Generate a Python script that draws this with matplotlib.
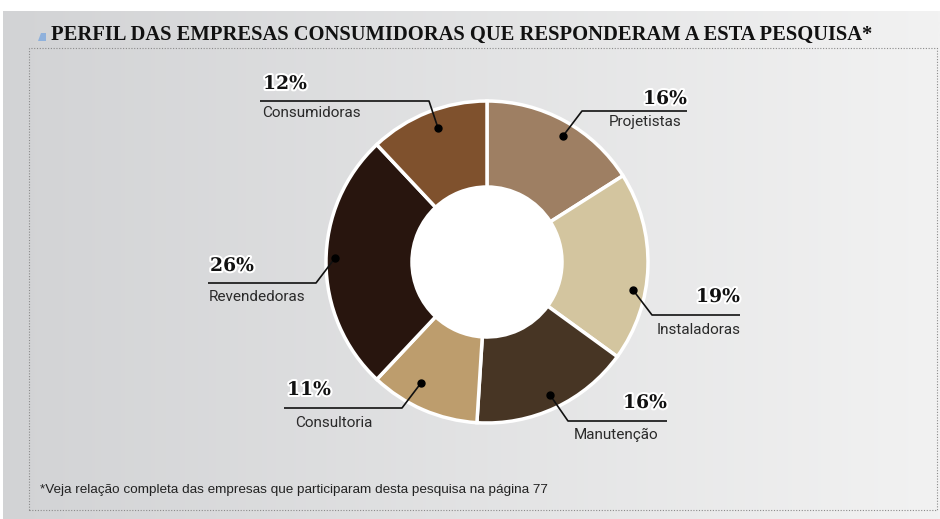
import numpy as np
import matplotlib
matplotlib.use("Agg")
import matplotlib.pyplot as plt
import matplotlib.patheffects as pe
from matplotlib import font_manager
from matplotlib.patches import Rectangle, Polygon, Circle

# ---- data ----
categories = ["Projetistas", "Instaladoras", "Manutenção", "Consultoria", "Revendedoras", "Consumidoras"]
values = [16, 19, 16, 11, 26, 12]
colors = ["#9e7f63", "#d3c59f", "#473524", "#bd9d6d", "#28150e", "#7f512d"]
title = "PERFIL DAS EMPRESAS CONSUMIDORAS QUE RESPONDERAM A ESTA PESQUISA*"
footnote = "*Veja relação completa das empresas que participaram desta pesquisa na página 77"

# ---- fonts ----
names = {f.name for f in font_manager.fontManager.ttflist}
narrow = "Liberation Sans Narrow" if "Liberation Sans Narrow" in names else "Liberation Sans"
label_font = "Roboto"
pct_font = "DejaVu Serif"
title_font = "Liberation Serif"

W, H = 940, 519
fig = plt.figure(figsize=(W / 100, H / 100), dpi=100)
fig.patch.set_facecolor("white")
ax = fig.add_axes([0, 0, 1, 1])

def Y(y):
    return H - y

# background gradient panel
grad = np.linspace(0, 1, 256)
c0 = np.array([0xd2, 0xd3, 0xd5]) / 255
c1 = np.array([0xf2, 0xf2, 0xf2]) / 255
img = (c0[None, :] * (1 - grad[:, None]) + c1[None, :] * grad[:, None])[None, :, :]
ax.imshow(img, extent=(3, W, 0, Y(11)), aspect="auto", zorder=0, interpolation="bilinear")

# dotted border
ax.add_patch(Rectangle((29, Y(510)), 937 - 29, 510 - 48, fill=False,
                       linestyle=(0, (1, 1.5)), edgecolor="#8a8a8a", lw=0.8, zorder=1))

# title + marker
ax.add_patch(Polygon([(38, Y(41)), (46, Y(41)), (46, Y(33)), (41, Y(33))], closed=True,
                     facecolor="#8fb1dc", edgecolor="none", zorder=2))
ax.text(51, Y(35), title, family=title_font, weight="bold", fontsize=14.8,
        color="#111111", ha="left", va="center", zorder=3)

# donut
cx, cy, R, r = 487, Y(262), 161, 75
ax.pie(values, colors=colors, startangle=90, counterclock=False, center=(cx, cy), radius=R,
       wedgeprops=dict(width=R - r, edgecolor="white", linewidth=2.5), frame=True)
ax.add_patch(Circle((cx, cy), r, facecolor="white", edgecolor="none", zorder=4))

# labels layout: (pct anchor, pct ha, line points, dot, label anchor, label ha)
layout = {
    "Consumidoras": ((263, 84), "left", [(260, 101), (429, 101)], (438, 128), (262, 113), "left"),
    "Projetistas": ((687, 99), "right", [(687, 111), (582, 111)], (563, 136), (681, 122), "right"),
    "Instaladoras": ((740, 297), "right", [(740, 315), (652, 315)], (633, 290), (741, 330), "right"),
    "Manutenção": ((667, 403), "right", [(667, 421), (568, 421)], (550, 395), (574, 435), "left"),
    "Consultoria": ((287, 390), "left", [(284, 408), (402, 408)], (421, 383), (295, 423), "left"),
    "Revendedoras": ((210, 266), "left", [(208, 283), (316, 283)], (335, 258), (209, 297), "left"),
}

for cat, val in zip(categories, values):
    (px, py), pha, pts, (dx, dy), (lx, ly), lha = layout[cat]
    xs = [p[0] for p in pts] + [dx]
    ys = [Y(p[1]) for p in pts] + [Y(dy)]
    ax.plot(xs, ys, color="#111111", lw=1.2, zorder=5, solid_capstyle="butt")
    ax.plot([dx], [Y(dy)], "o", color="#000000", ms=5, zorder=6)
    ax.text(px, Y(py), f"{val}%", family=pct_font, weight="heavy", fontsize=13.5,
            color="#111111", ha=pha, va="center", zorder=7,
            path_effects=[pe.withStroke(linewidth=3, foreground="white")])
    ax.text(lx, Y(ly), cat, family=label_font, fontsize=11, color="#2a2a2a",
            ha=lha, va="center", zorder=7)

ax.text(40, Y(490), footnote, family=narrow, fontsize=9.7, color="#222222",
        ha="left", va="center", zorder=3)

ax.set_xlim(0, W)
ax.set_ylim(0, H)
ax.set_aspect("auto")
ax.axis("off")

fig.savefig("out.png", dpi=100, facecolor="white")
